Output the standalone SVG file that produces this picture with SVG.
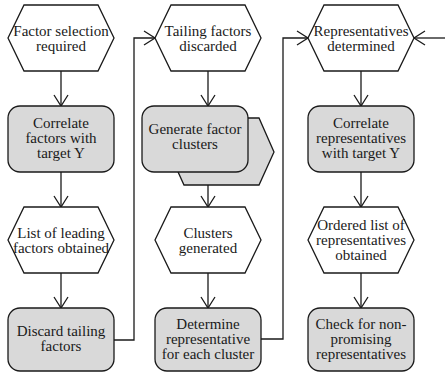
<svg xmlns="http://www.w3.org/2000/svg" width="445" height="374" viewBox="0 0 445 374">
<defs>
<style>
.ev{fill:#ffffff;stroke:#1a1a1a;stroke-width:1.3}
.fn{fill:#d9d9d9;stroke:#1a1a1a;stroke-width:1.3}
.c{fill:none;stroke:#1a1a1a;stroke-width:1.3;marker-end:url(#arr)}
text{font-family:"Liberation Serif","Times New Roman",serif;font-size:15px;fill:#1a1a1a;text-anchor:middle}
</style>
<marker id="arr" markerUnits="userSpaceOnUse" markerWidth="14" markerHeight="16" refX="12" refY="7" orient="auto" overflow="visible">
<path d="M1,0 L12,7 L1,14" fill="none" stroke="#1a1a1a" stroke-width="1.3"/>
</marker>
</defs>
<rect width="445" height="374" fill="#ffffff"/>
<g id="connectors">
<path class="c" d="M61,71 V106"/>
<path class="c" d="M61,172 V207"/>
<path class="c" d="M61,273 V308"/>
<path class="c" d="M114,340 H134 V38 H155"/>
<path class="c" d="M208,71 V106"/>
<path class="c" d="M208,185 V207"/>
<path class="c" d="M208,273 V308"/>
<path class="c" d="M261,339 H283 V38 H308"/>
<path class="c" d="M445,38 H414"/>
<path class="c" d="M361,71 V106"/>
<path class="c" d="M361,172 V207"/>
<path class="c" d="M361,273 V308"/>
</g>
<g id="n1">
<polygon class="ev" points="24,5 98,5 114,38 98,71 24,71 8,38"/>
<text x="61" y="36">Factor selection</text>
<text x="61" y="50.5">required</text>
</g>
<g id="n2">
<rect class="fn" x="8" y="106" width="106" height="66" rx="12"/>
<text x="61" y="127.5">Correlate</text>
<text x="61" y="142.5">factors with</text>
<text x="61" y="157.5">target Y</text>
</g>
<g id="n3">
<polygon class="ev" points="24,207 98,207 114,240 98,273 24,273 8,240"/>
<text x="61" y="237.5">List of leading</text>
<text x="61" y="252.5">factors obtained</text>
</g>
<g id="n4">
<rect class="fn" x="8" y="308" width="106" height="63" rx="12"/>
<text x="61" y="336">Discard tailing</text>
<text x="61" y="351">factors</text>
</g>
<g id="n5">
<polygon class="ev" points="171,5 245,5 261,38 245,71 171,71 155,38"/>
<text x="208" y="36">Tailing factors</text>
<text x="208" y="50.5">discarded</text>
</g>
<g id="n6">
<polygon class="fn" points="184,118 259,118 274,152 259,185 184,185 169,152"/>
<rect class="fn" x="142" y="106" width="106" height="66" rx="12"/>
<text x="195" y="134">Generate factor</text>
<text x="195" y="149">clusters</text>
</g>
<g id="n7">
<polygon class="ev" points="171,207 245,207 261,240 245,273 171,273 155,240"/>
<text x="208" y="237.5">Clusters</text>
<text x="208" y="252.5">generated</text>
</g>
<g id="n8">
<rect class="fn" x="155" y="308" width="106" height="63" rx="12"/>
<text x="208" y="328.5">Determine</text>
<text x="208" y="343.5">representative</text>
<text x="208" y="358.5">for each cluster</text>
</g>
<g id="n9">
<polygon class="ev" points="324,5 398,5 414,38 398,71 324,71 308,38"/>
<text x="361" y="36">Representatives</text>
<text x="361" y="50.5">determined</text>
</g>
<g id="n10">
<rect class="fn" x="308" y="106" width="106" height="66" rx="12"/>
<text x="361" y="127.5">Correlate</text>
<text x="361" y="142.5">representatives</text>
<text x="361" y="157.5">with target Y</text>
</g>
<g id="n11">
<polygon class="ev" points="324,207 398,207 414,240 398,273 324,273 308,240"/>
<text x="361" y="229.5">Ordered list of</text>
<text x="361" y="244.5">representatives</text>
<text x="361" y="259.5">obtained</text>
</g>
<g id="n12">
<rect class="fn" x="308" y="308" width="106" height="63" rx="12"/>
<text x="361" y="328.5">Check for non-</text>
<text x="361" y="343.5">promising</text>
<text x="361" y="358.5">representatives</text>
</g>
</svg>
